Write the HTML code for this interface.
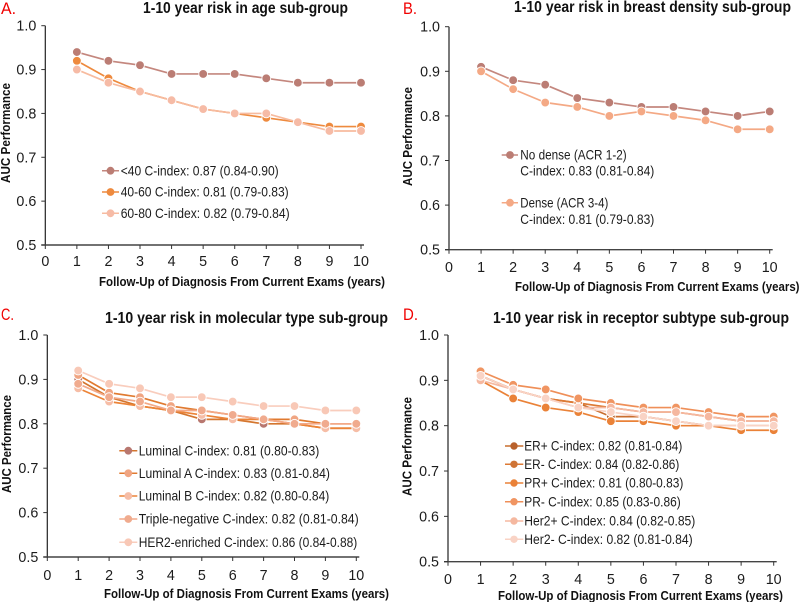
<!DOCTYPE html>
<html lang="en">
<head>
<meta charset="utf-8">
<title>1-10 year risk AUC performance by sub-group</title>
<style>
  html, body { margin: 0; padding: 0; background: #fff; }
  body { width: 800px; height: 602px; overflow: hidden; }
  svg { display: block; font-family: "Liberation Sans", sans-serif; filter: blur(0.35px); }
  .title { font-size: 15.5px; font-weight: bold; fill: #111; }
  .axis-title { font-size: 12.5px; font-weight: bold; fill: #111; }
  .letter { font-size: 17px; fill: #f00000; }
  .tick-label { font-size: 14.3px; fill: #1c1c1c; }
  .legend-text { font-size: 13.6px; fill: #1c1c1c; }
</style>
</head>
<body>
<svg id="figure" width="800" height="602" viewBox="0 0 800 602" xmlns="http://www.w3.org/2000/svg">

  <!-- Panel A -->
  <g id="panel-a">
    <text class="letter" x="1" y="14" textLength="15" lengthAdjust="spacingAndGlyphs">A.</text>
    <text class="title" x="143" y="13" textLength="205" lengthAdjust="spacingAndGlyphs">1-10 year risk in age sub-group</text>
    <text class="axis-title" transform="translate(10 183) rotate(-90)" textLength="100" lengthAdjust="spacingAndGlyphs">AUC Performance</text>
    <text class="axis-title" x="99" y="286" textLength="286" lengthAdjust="spacingAndGlyphs">Follow-Up of Diagnosis From Current Exams (years)</text>
    <g>
      <g>
        <line x1="102" x2="119" y1="170.7" y2="170.7" stroke="#c4877e" stroke-width="1.5"/>
        <circle cx="110.5" cy="170.7" r="3.9" fill="#bb7d74"/>
        <text class="legend-text" x="120.7" y="175.3" textLength="158" lengthAdjust="spacingAndGlyphs">&lt;40 C-index: 0.87 (0.84-0.90)</text>
      </g>
      <g>
        <line x1="102" x2="119" y1="192" y2="192" stroke="#ee8a3e" stroke-width="1.5"/>
        <circle cx="110.5" cy="192" r="3.9" fill="#ee8a3e"/>
        <text class="legend-text" x="120.7" y="196.6" textLength="168" lengthAdjust="spacingAndGlyphs">40-60 C-index: 0.81 (0.79-0.83)</text>
      </g>
      <g>
        <line x1="102" x2="119" y1="213.3" y2="213.3" stroke="#f7bb9f" stroke-width="1.5"/>
        <circle cx="110.5" cy="213.3" r="3.9" fill="#f6bba6"/>
        <text class="legend-text" x="120.7" y="217.9" textLength="169" lengthAdjust="spacingAndGlyphs">60-80 C-index: 0.82 (0.79-0.84)</text>
      </g>
    </g>
  </g>

  <!-- Panel B -->
  <g id="panel-b">
    <text class="letter" x="403" y="14" textLength="14" lengthAdjust="spacingAndGlyphs">B.</text>
    <text class="title" x="514" y="12" textLength="277" lengthAdjust="spacingAndGlyphs">1-10 year risk in breast density sub-group</text>
    <text class="axis-title" transform="translate(412 186) rotate(-90)" textLength="99" lengthAdjust="spacingAndGlyphs">AUC Performance</text>
    <text class="axis-title" x="515" y="291" textLength="284.5" lengthAdjust="spacingAndGlyphs">Follow-Up of Diagnosis From Current Exams (years)</text>
    <g>
      <g>
        <line x1="501.7" x2="518" y1="155" y2="155" stroke="#c4877e" stroke-width="1.5"/>
        <circle cx="510" cy="155" r="3.9" fill="#bb7d74"/>
        <text class="legend-text" x="520.3" y="159.6" textLength="106.4" lengthAdjust="spacingAndGlyphs">No dense (ACR 1-2)</text>
        <text class="legend-text" x="520.3" y="175.6" textLength="134" lengthAdjust="spacingAndGlyphs">C-index: 0.83 (0.81-0.84)</text>
      </g>
      <g>
        <line x1="501.7" x2="518" y1="202.7" y2="202.7" stroke="#f4a985" stroke-width="1.5"/>
        <circle cx="510" cy="202.7" r="3.9" fill="#f4a985"/>
        <text class="legend-text" x="520.3" y="207.3" textLength="88" lengthAdjust="spacingAndGlyphs">Dense (ACR 3-4)</text>
        <text class="legend-text" x="520.3" y="223.9" textLength="134" lengthAdjust="spacingAndGlyphs">C-index: 0.81 (0.79-0.83)</text>
      </g>
    </g>
  </g>

  <!-- Panel C -->
  <g id="panel-c">
    <text class="letter" x="1" y="320" textLength="13" lengthAdjust="spacingAndGlyphs">C.</text>
    <text class="title" x="105" y="323" textLength="283" lengthAdjust="spacingAndGlyphs">1-10 year risk in molecular type sub-group</text>
    <text class="axis-title" transform="translate(11 493) rotate(-90)" textLength="98" lengthAdjust="spacingAndGlyphs">AUC Performance</text>
    <text class="axis-title" x="104" y="598" textLength="285" lengthAdjust="spacingAndGlyphs">Follow-Up of Diagnosis From Current Exams (years)</text>
    <g>
      <g>
        <line x1="119.3" x2="137.3" y1="450.7" y2="450.7" stroke="#d4762f" stroke-width="1.5"/>
        <circle cx="128.3" cy="450.7" r="3.9" fill="#b8776f"/>
        <text class="legend-text" x="138.7" y="455.3" textLength="180.6" lengthAdjust="spacingAndGlyphs">Luminal C-index: 0.81 (0.80-0.83)</text>
      </g>
      <g>
        <line x1="119.3" x2="137.3" y1="473.3" y2="473.3" stroke="#e07a30" stroke-width="1.5"/>
        <circle cx="128.3" cy="473.3" r="3.9" fill="#f0a582"/>
        <text class="legend-text" x="138.7" y="477.9" textLength="191.3" lengthAdjust="spacingAndGlyphs">Luminal A C-index: 0.83 (0.81-0.84)</text>
      </g>
      <g>
        <line x1="119.3" x2="137.3" y1="496" y2="496" stroke="#ec8438" stroke-width="1.5"/>
        <circle cx="128.3" cy="496" r="3.9" fill="#f6bda6"/>
        <text class="legend-text" x="138.7" y="500.6" textLength="190.6" lengthAdjust="spacingAndGlyphs">Luminal B C-index: 0.82 (0.80-0.84)</text>
      </g>
      <g>
        <line x1="119.3" x2="137.3" y1="519" y2="519" stroke="#f3a988" stroke-width="1.5"/>
        <circle cx="128.3" cy="519" r="3.9" fill="#f0ab8e"/>
        <text class="legend-text" x="138.7" y="523.6" textLength="220" lengthAdjust="spacingAndGlyphs">Triple-negative C-index: 0.82 (0.81-0.84)</text>
      </g>
      <g>
        <line x1="119.3" x2="137.3" y1="542.3" y2="542.3" stroke="#f9cdbd" stroke-width="1.5"/>
        <circle cx="128.3" cy="542.3" r="3.9" fill="#f8c8b6"/>
        <text class="legend-text" x="138.7" y="546.9" textLength="218.6" lengthAdjust="spacingAndGlyphs">HER2-enriched C-index: 0.86 (0.84-0.88)</text>
      </g>
    </g>
  </g>

  <!-- Panel D -->
  <g id="panel-d">
    <text class="letter" x="403" y="320" textLength="15" lengthAdjust="spacingAndGlyphs">D.</text>
    <text class="title" x="493" y="323" textLength="296" lengthAdjust="spacingAndGlyphs">1-10 year risk in receptor subtype sub-group</text>
    <text class="axis-title" transform="translate(411.5 496) rotate(-90)" textLength="99" lengthAdjust="spacingAndGlyphs">AUC Performance</text>
    <text class="axis-title" x="498" y="600" textLength="285" lengthAdjust="spacingAndGlyphs">Follow-Up of Diagnosis From Current Exams (years)</text>
    <g>
      <g>
        <line x1="505" x2="523.3" y1="446" y2="446" stroke="#c96e2e" stroke-width="1.5"/>
        <circle cx="514" cy="446" r="3.7" fill="#b9622c"/>
        <text class="legend-text" x="524.3" y="450.6" textLength="158" lengthAdjust="spacingAndGlyphs">ER+ C-index: 0.82 (0.81-0.84)</text>
      </g>
      <g>
        <line x1="505" x2="523.3" y1="464.3" y2="464.3" stroke="#dd7a35" stroke-width="1.5"/>
        <circle cx="514" cy="464.3" r="3.7" fill="#cf7436"/>
        <text class="legend-text" x="524.3" y="468.9" textLength="155" lengthAdjust="spacingAndGlyphs">ER- C-index: 0.84 (0.82-0.86)</text>
      </g>
      <g>
        <line x1="505" x2="523.3" y1="483" y2="483" stroke="#ea8238" stroke-width="1.5"/>
        <circle cx="514" cy="483" r="3.7" fill="#ea8238"/>
        <text class="legend-text" x="524.3" y="487.6" textLength="159" lengthAdjust="spacingAndGlyphs">PR+ C-index: 0.81 (0.80-0.83)</text>
      </g>
      <g>
        <line x1="505" x2="523.3" y1="501.7" y2="501.7" stroke="#ef8f58" stroke-width="1.5"/>
        <circle cx="514" cy="501.7" r="3.7" fill="#f09562"/>
        <text class="legend-text" x="524.3" y="506.3" textLength="156.4" lengthAdjust="spacingAndGlyphs">PR- C-index: 0.85 (0.83-0.86)</text>
      </g>
      <g>
        <line x1="505" x2="523.3" y1="521" y2="521" stroke="#f5b8a0" stroke-width="1.5"/>
        <circle cx="514" cy="521" r="3.7" fill="#f5b8a0"/>
        <text class="legend-text" x="524.3" y="525.6" textLength="171" lengthAdjust="spacingAndGlyphs">Her2+ C-index: 0.84 (0.82-0.85)</text>
      </g>
      <g>
        <line x1="505" x2="523.3" y1="539.3" y2="539.3" stroke="#f9d3c5" stroke-width="1.5"/>
        <circle cx="514" cy="539.3" r="3.7" fill="#f9d3c5"/>
        <text class="legend-text" x="524.3" y="543.9" textLength="168.4" lengthAdjust="spacingAndGlyphs">Her2- C-index: 0.82 (0.81-0.84)</text>
      </g>
    </g>
  </g>
</svg>

<script>
// ---- Data ----
const followUpYears = [1, 2, 3, 4, 5, 6, 7, 8, 9, 10];
const xTickLabels = [0, 1, 2, 3, 4, 5, 6, 7, 8, 9, 10];
const yTickLabels = ['0.5', '0.6', '0.7', '0.8', '0.9', '1.0'];

const ageUnder40 = [0.94, 0.92, 0.91, 0.89, 0.89, 0.89, 0.88, 0.87, 0.87, 0.87];
const age40to60 = [0.92, 0.88, 0.85, 0.83, 0.81, 0.80, 0.79, 0.78, 0.77, 0.77];
const age60to80 = [0.90, 0.87, 0.85, 0.83, 0.81, 0.80, 0.80, 0.78, 0.76, 0.76];

const densityNoDense = [0.91, 0.88, 0.87, 0.84, 0.83, 0.82, 0.82, 0.81, 0.80, 0.81];
const densityDense = [0.90, 0.86, 0.83, 0.82, 0.80, 0.81, 0.80, 0.79, 0.77, 0.77];

const molLuminal = [0.90, 0.86, 0.84, 0.83, 0.81, 0.81, 0.80, 0.80, 0.79, 0.79];
const molLuminalA = [0.91, 0.87, 0.86, 0.84, 0.83, 0.82, 0.81, 0.81, 0.80, 0.80];
const molLuminalB = [0.88, 0.85, 0.84, 0.83, 0.82, 0.81, 0.81, 0.80, 0.79, 0.79];
const molTripleNeg = [0.89, 0.86, 0.85, 0.83, 0.83, 0.82, 0.81, 0.80, 0.80, 0.80];
const molHer2Enriched = [0.92, 0.89, 0.88, 0.86, 0.86, 0.85, 0.84, 0.84, 0.83, 0.83];

const recErPos = [0.91, 0.88, 0.86, 0.85, 0.82, 0.82, 0.81, 0.80, 0.80, 0.80];
const recErNeg = [0.91, 0.88, 0.86, 0.85, 0.84, 0.83, 0.83, 0.82, 0.81, 0.81];
const recPrPos = [0.90, 0.86, 0.84, 0.83, 0.81, 0.81, 0.80, 0.80, 0.79, 0.79];
const recPrNeg = [0.92, 0.89, 0.88, 0.86, 0.85, 0.84, 0.84, 0.83, 0.82, 0.82];
const recHer2Pos = [0.90, 0.88, 0.86, 0.84, 0.84, 0.83, 0.83, 0.82, 0.81, 0.81];
const recHer2Neg = [0.91, 0.88, 0.86, 0.84, 0.83, 0.82, 0.81, 0.80, 0.80, 0.80];

// ---- Layout & drawing ----
const SVG_NS = 'http://www.w3.org/2000/svg';
const X_MAX = 10, Y_MIN = 0.5, Y_MAX = 1.0;

const panels = [
  { id: 'panel-a', left: 45.3, right: 361, top: 25.7, bottom: 245, xLabelY: 266,
    series: [
      { name: 'under-40', values: ageUnder40, line: '#c4877e', fill: '#bb7d74' },
      { name: '40-60', values: age40to60, line: '#ee8a3e', fill: '#ee8a3e' },
      { name: '60-80', values: age60to80, line: '#f7bb9f', fill: '#f6bba6' }
    ] },
  { id: 'panel-b', left: 449, right: 769.7, top: 26.7, bottom: 249.7, xLabelY: 272,
    series: [
      { name: 'no-dense', values: densityNoDense, line: '#c4877e', fill: '#bb7d74' },
      { name: 'dense', values: densityDense, line: '#f4a985', fill: '#f4a985' }
    ] },
  { id: 'panel-c', left: 47.3, right: 356.3, top: 335, bottom: 557, xLabelY: 580,
    series: [
      { name: 'luminal', values: molLuminal, line: '#d4762f', fill: '#b8776f' },
      { name: 'luminal-a', values: molLuminalA, line: '#e07a30', fill: '#f0a582' },
      { name: 'luminal-b', values: molLuminalB, line: '#ec8438', fill: '#f6bda6' },
      { name: 'triple-negative', values: molTripleNeg, line: '#f3a988', fill: '#f0ab8e' },
      { name: 'her2-enriched', values: molHer2Enriched, line: '#f9cdbd', fill: '#f8c8b6' }
    ] },
  { id: 'panel-d', left: 448, right: 773.7, top: 335, bottom: 561.7, xLabelY: 584,
    series: [
      { name: 'er-positive', values: recErPos, line: '#c96e2e', fill: '#b9622c' },
      { name: 'er-negative', values: recErNeg, line: '#dd7a35', fill: '#e98a50' },
      { name: 'pr-positive', values: recPrPos, line: '#ea8238', fill: '#ea8238' },
      { name: 'pr-negative', values: recPrNeg, line: '#ef8f58', fill: '#f09562' },
      { name: 'her2-positive', values: recHer2Pos, line: '#f5b8a0', fill: '#f5b8a0' },
      { name: 'her2-negative', values: recHer2Neg, line: '#f9d3c5', fill: '#f9d3c5' }
    ] }
];

function make(tag, attrs, parent) {
  const el = document.createElementNS(SVG_NS, tag);
  Object.keys(attrs).forEach(function (k) { el.setAttribute(k, attrs[k]); });
  parent.appendChild(el);
  return el;
}

function drawPanel(p) {
  const root = document.getElementById(p.id);
  const xScale = function (v) { return p.left + (v / X_MAX) * (p.right - p.left); };
  const yScale = function (v) { return p.bottom - ((v - Y_MIN) / (Y_MAX - Y_MIN)) * (p.bottom - p.top); };

  // Axes
  const yAxis = make('line', { x1: p.left, x2: p.left, y1: p.top, y2: p.bottom, stroke: '#222', 'stroke-width': 1.2 }, root);
  
  

  const xAxis = make('line', { x1: p.left - 4, x2: p.right + 3, y1: p.bottom, y2: p.bottom, stroke: '#444', 'stroke-width': 1.4 }, root);
  
  

  yTickLabels.forEach(function (label) {
    const y = yScale(parseFloat(label));
    const tick = make('line', { x1: p.left - 4, x2: p.left, y1: y, y2: y, stroke: '#333', 'stroke-width': 1 }, root);
    
    
    const text = make('text', { class: 'tick-label', x: p.left - 9, y: y + 5, 'text-anchor': 'end' }, root);
    text.textContent = label;
    
    
  });

  xTickLabels.forEach(function (label) {
    const x = xScale(label);
    const tick = make('line', { x1: x, x2: x, y1: p.bottom, y2: p.bottom + 4, stroke: '#333', 'stroke-width': 1 }, root);
    
    
    const text = make('text', { class: 'tick-label', x: x, y: p.xLabelY, 'text-anchor': 'middle' }, root);
    text.textContent = label;
    
    
  });

  // Series
  p.series.forEach(function (s) {
    const group = make('g', {}, root);
    
    

    const pts = s.values.map(function (v, i) { return xScale(followUpYears[i]) + ',' + yScale(v); }).join(' ');
    const line = make('polyline', { points: pts, fill: 'none', stroke: s.line, 'stroke-width': 1.7, 'stroke-linejoin': 'round' }, group);
    
    

    s.values.forEach(function (v, i) {
      const dot = make('circle', { cx: xScale(followUpYears[i]), cy: yScale(v), r: 4.4, fill: s.fill, stroke: '#fff', 'stroke-width': 0.9 }, group);
      
      
    });
  });
}

panels.forEach(drawPanel);
</script>
</body>
</html>
